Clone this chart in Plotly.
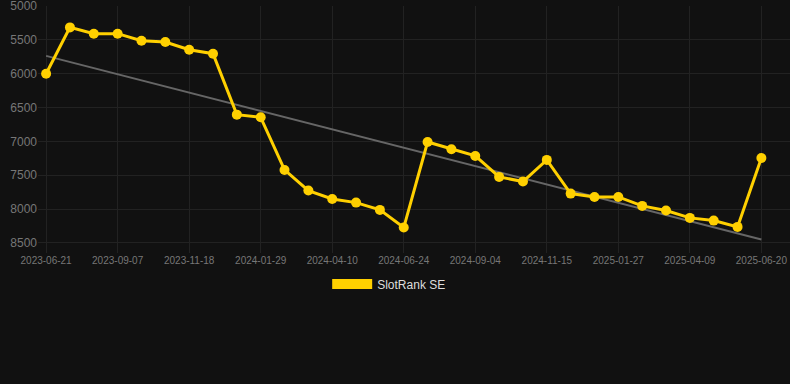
import numpy as np
import plotly.graph_objects as go

tick_dates = ["2023-06-21", "2023-09-07", "2023-11-18", "2024-01-29", "2024-04-10",
              "2024-06-24", "2024-09-04", "2024-11-15", "2025-01-27", "2025-04-09", "2025-06-20"]

ranks = [6000, 5315, 5408, 5408, 5512, 5532, 5645, 5704, 6605, 6644,
         7422, 7727, 7851, 7905, 8013, 8274, 7009, 7117, 7215, 7525,
         7594, 7274, 7772, 7821, 7821, 7954, 8023, 8131, 8171, 8264, 7245]

series_name = "SlotRank SE"
y_ticks = [5000, 5500, 6000, 6500, 7000, 7500, 8000, 8500]

idx = np.arange(len(ranks))
slope, intercept = np.polyfit(idx, ranks, 1)
trend = slope * idx + intercept

GOLD = "#FFD000"

fig = go.Figure()
fig.add_trace(go.Scatter(
    x=idx, y=trend, mode="lines",
    line=dict(color="#666666", width=2),
    showlegend=False, hoverinfo="skip"))
fig.add_trace(go.Scatter(
    x=idx, y=ranks, mode="lines+markers",
    line=dict(color=GOLD, width=3),
    marker=dict(color=GOLD, size=10),
    showlegend=False))
fig.add_trace(go.Scatter(
    x=[None], y=[None], mode="lines", name=series_name,
    line=dict(color=GOLD, width=12)))

fig.update_layout(
    width=790, height=384,
    paper_bgcolor="#111111", plot_bgcolor="#111111",
    margin=dict(l=38, r=0, t=6, b=131),
    font=dict(family="Liberation Sans, Arial, sans-serif", color="#777777"),
    xaxis=dict(
        range=[-0.34, 31.2],
        tickvals=list(range(0, len(ranks), 3)),
        ticktext=tick_dates,
        tickangle=0,
        tickfont=dict(size=10, color="#777777"),
        ticklabeloverflow="allow",
        showgrid=True, gridcolor="#222222", gridwidth=1,
        zeroline=False, showline=False, ticks="",
    ),
    yaxis=dict(
        range=[8650, 4999],
        tickvals=y_ticks,
        ticktext=[str(v) for v in y_ticks],
        tickfont=dict(size=12, color="#777777"),
        ticklabeloverflow="allow",
        showgrid=True, gridcolor="#222222", gridwidth=1,
        zeroline=False, showline=False, ticks="",
    ),
    legend=dict(
        orientation="h", x=0.467, xanchor="center",
        y=-0.125, yanchor="middle",
        itemwidth=40, font=dict(size=12, color="#dddddd"),
        bgcolor="rgba(0,0,0,0)",
    ),
    showlegend=True,
)

fig.write_html(
    "out.html",
    config={"displayModeBar": False},
    post_script="document.body.style.margin='0';document.body.style.background='#111111';",
)
